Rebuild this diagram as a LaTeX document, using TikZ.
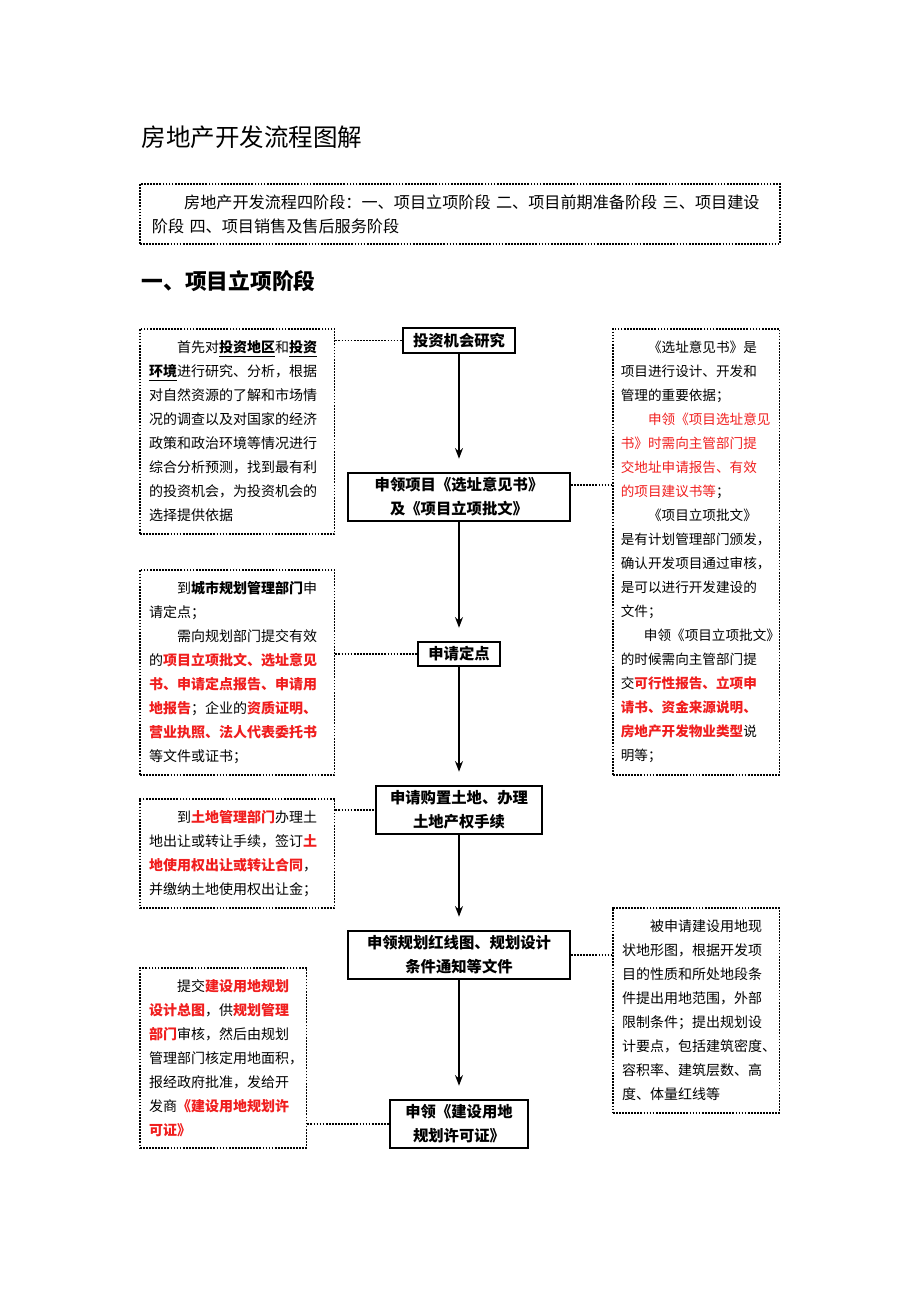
\documentclass[tikz,border=0pt]{standalone}
\usepackage{fontspec}
\setmainfont{Noto Sans CJK SC}
\newfontfamily\cjk{Noto Sans CJK SC}
\usetikzlibrary{arrows.meta}
\definecolor{rd}{RGB}{240,30,30}
\newcommand{\R}[1]{\textcolor{rd}{\textbf{#1}}}
\newcommand{\Rn}[1]{\textcolor{rd}{#1}}
\newcommand{\ind}{\hspace*{2em}}
\begin{document}
\begin{tikzpicture}[x=0.75pt,y=-0.75pt,
  dot/.style={densely dotted,line width=1.3pt},
  stp/.style={draw,line width=1.4pt,align=center,inner sep=0pt,font=\cjk\fontsize{11.5}{18}\selectfont\bfseries},
  tbox/.style={dot,draw,anchor=north west,align=left,inner xsep=7pt,inner ysep=0pt,font=\cjk\fontsize{10.5}{18}\selectfont},
  arr/.style={-{Stealth[length=8pt,width=6pt]},line width=1pt,shorten >=10pt}]
\useasboundingbox (0,0) rectangle (920,1302);
\node[anchor=west,font=\cjk\fontsize{18.4}{22}\selectfont] (title) at (137,137) {房地产开发流程图解};
\node[dot,draw,anchor=north west,minimum width=640*0.75pt,minimum height=60*0.75pt,align=left,inner xsep=9pt,text width=462pt,font=\cjk\fontsize{12.1}{18}\selectfont] (intro) at (139,183)
 {\ind 房地产开发流程四阶段：一、项目立项阶段 二、项目前期准备阶段 三、项目建设\\阶段 四、项目销售及售后服务阶段};
\node[anchor=west,font=\cjk\fontsize{16.3}{20}\selectfont\bfseries] (sec) at (137,281) {一、项目立项阶段};

\node[stp,minimum width=112*0.75pt,minimum height=25*0.75pt] (n1) at (459,340.5) {投资机会研究};
\node[stp,minimum width=222*0.75pt,minimum height=48*0.75pt] (n2) at (459,497) {申领项目《选址意见书》\\及《项目立项批文》};
\node[stp,minimum width=82*0.75pt,minimum height=24*0.75pt] (n3) at (459,654) {申请定点};
\node[stp,minimum width=166*0.75pt,minimum height=48*0.75pt] (n4) at (459,810) {申请购置土地、办理\\土地产权手续};
\node[stp,minimum width=222*0.75pt,minimum height=48*0.75pt] (n5) at (459,955) {申领规划红线图、规划设计\\条件通知等文件};
\node[stp,minimum width=138*0.75pt,minimum height=48*0.75pt] (n6) at (459,1124) {申领《建设用地\\规划许可证》};
\draw[arr] (n1) -- (n2);
\draw[arr] (n2) -- (n3);
\draw[arr] (n3) -- (n4);
\draw[arr] (n4) -- (n5);
\draw[arr] (n5) -- (n6);

\node[tbox,text width=132pt,minimum height=205*0.75pt] (L1) at (139,328)
{\ind 首先对\underline{\textbf{投资地区}}和\underline{\textbf{投资}}\\
\underline{\textbf{环境}}进行研究、分析，根据\\对自然资源的了解和市场情\\况的调查以及对国家的经济\\政策和政治环境等情况进行\\综合分析预测，找到最有利\\的投资机会，为投资机会的\\选择提供依据};
\node[tbox,text width=132pt,minimum height=205*0.75pt] (L2) at (139,569)
{\ind 到\textbf{城市规划管理部门}申\\请定点；\\\ind 需向规划部门提交有效\\的\R{项目立项批文、选址意见}\\\R{书、申请定点报告、申请用}\\\R{地报告}；企业的\R{资质证明、}\\\R{营业执照、法人代表委托书}\\等文件或证书；};
\node[tbox,text width=132pt,minimum height=109*0.75pt] (L3) at (139,798)
{\ind 到\R{土地管理部门}办理土\\地出让或转让手续，签订\R{土}\\\R{地使用权出让或转让合同}，\\并缴纳土地使用权出让金；};
\node[tbox,text width=111pt,minimum height=180*0.75pt] (L4) at (139,967)
{\ind 提交\R{建设用地规划}\\\R{设计总图}，供\R{规划管理}\\\R{部门}审核，然后由规划\\管理部门核定用地面积，\\报经政府批准，发给开\\发商\R{《建设用地规划许}\\\R{可证》}};
\node[tbox,text width=113pt,inner xsep=6pt,minimum height=446*0.75pt,font=\cjk\fontsize{10.2}{18}\selectfont] (R1) at (612,328)
{\ind 《选址意见书》是\\项目进行设计、开发和\\管理的重要依据；\\\ind\Rn{申领《项目选址意见}\\\Rn{书》时需向主管部门提}\\\Rn{交地址申请报告、有效}\\\Rn{的项目建议书等}；\\\ind 《项目立项批文》\\是有计划管理部门颁发，\\确认开发项目通过审核，\\是可以进行开发建设的\\文件；\\\hspace*{1.7em}申领《项目立项批文》\\的时候需向主管部门提\\交\R{可行性报告、立项申}\\\R{请书、资金来源说明、}\\\R{房地产开发物业类型}说\\明等；};
\node[tbox,text width=111pt,minimum height=205*0.75pt] (R2) at (612,907)
{\ind 被申请建设用地现\\状地形图，根据开发项\\目的性质和所处地段条\\件提出用地范围，外部\\限制条件；提出规划设\\计要点，包括建筑密度、\\容积率、建筑层数、高\\度、体量红线等};

\draw[dot] (L1.east |- n1) -- (n1.west);
\draw[dot] (L2.east |- n3) -- (n3.west);
\draw[dot] (L3.east |- n4) -- (n4.west);
\draw[dot] (L4.east |- n6) -- (n6.west);
\draw[dot] ([yshift=9pt]n2.east) -- ([yshift=9pt]n2.east -| R1.west);
\draw[dot] (n5.east) -- (n5.east -| R2.west);
\end{tikzpicture}
\end{document}
